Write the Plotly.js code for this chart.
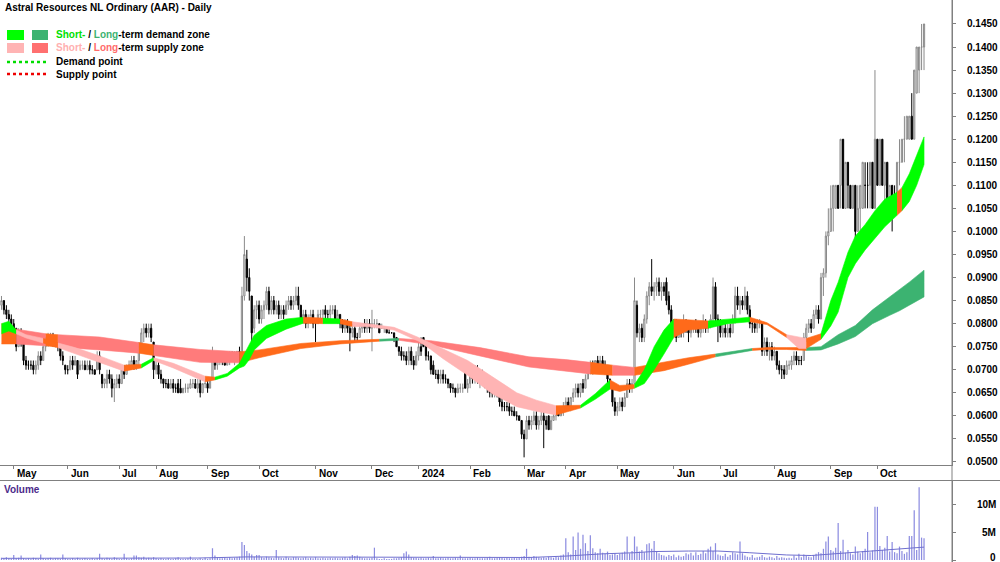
<!DOCTYPE html>
<html><head><meta charset="utf-8">
<script src="https://cdn.plot.ly/plotly-3.0.1.min.js"></script>
<style>html,body{margin:0;padding:0;background:#fff}#chart{width:1000px;height:562px}</style>
</head><body><div id="chart"></div>
<script>
// ---- Daily OHLC (AUD), one entry per trading day ----
const open = [
.084,.085,.083,.082,.081,.080,.079,.075,.078,.076,
.072,.071,.071,.071,.070,.071,.073,.072,.075,.076,
.077,.077,.076,.075,.075,.073,.071,.070,.070,.072,
.071,.072,.070,.071,.071,.070,.071,.070,.070,.070,
.073,.069,.067,.067,.069,.068,.066,.067,.068,.067,
.070,.069,.071,.071,.072,.071,.072,.075,.078,.079,
.078,.079,.076,.070,.071,.069,.068,.067,.067,.066,
.067,.066,.067,.066,.065,.066,.066,.066,.067,.067,
.066,.067,.065,.067,.067,.066,.068,.072,.071,.072,
.073,.072,.071,.072,.073,.072,.073,.074,.072,.086,
.094,.090,.086,.079,.083,.084,.081,.083,.084,.087,
.083,.085,.083,.084,.082,.083,.082,.084,.085,.084,
.085,.086,.084,.081,.082,.080,.081,.082,.080,.080,
.082,.082,.083,.082,.082,.083,.083,.081,.082,.080,
.079,.080,.079,.078,.079,.077,.077,.079,.080,.079,
.080,.079,.080,.080,.080,.079,.079,.079,.078,.078,
.078,.077,.075,.074,.073,.073,.072,.074,.072,.071,
.073,.075,.077,.075,.073,.073,.071,.069,.069,.068,
.069,.068,.068,.067,.066,.066,.065,.066,.066,.070,
.066,.067,.069,.068,.070,.068,.069,.068,.067,.066,
.065,.065,.066,.065,.063,.062,.062,.062,.061,.061,
.060,.060,.059,.056,.055,.059,.058,.059,.060,.058,
.059,.060,.059,.060,.057,.059,.060,.061,.060,.061,
.062,.063,.062,.064,.065,.066,.065,.067,.066,.068,
.070,.071,.070,.072,.071,.072,.071,.070,.068,.066,
.063,.061,.062,.063,.062,.064,.067,.066,.067,.084,
.078,.079,.077,.081,.086,.088,.087,.088,.089,.087,
.088,.089,.086,.083,.079,.080,.077,.079,.078,.080,
.079,.078,.079,.080,.079,.078,.079,.080,.079,.080,
.081,.088,.081,.080,.078,.079,.078,.079,.078,.081,
.086,.084,.085,.084,.086,.083,.080,.080,.079,.080,
.080,.074,.076,.074,.075,.073,.074,.071,.070,.070,
.069,.071,.071,.072,.073,.072,.072,.072,.077,.079,
.080,.079,.082,.083,.081,.090,.091,.099,.100,.105,
.105,.110,.110,.120,.105,.115,.110,.105,.110,.100,
.105,.105,.110,.110,.110,.115,.105,.120,.110,.120,
.110,.115,.105,.110,.105,.105,.115,.115,.120,.120,
.120,.125,.120,.130,.135,.140,.140];
const high = [
.086,.085,.084,.083,.082,.081,.079,.079,.079,.076,
.073,.072,.072,.072,.072,.074,.074,.076,.077,.078,
.078,.078,.077,.076,.075,.074,.071,.071,.073,.073,
.073,.072,.072,.072,.072,.072,.072,.071,.070,.074,
.074,.069,.068,.070,.070,.069,.068,.069,.069,.071,
.071,.071,.072,.073,.073,.072,.076,.079,.080,.080,
.080,.080,.076,.072,.072,.070,.068,.068,.068,.068,
.068,.067,.068,.068,.066,.067,.067,.068,.068,.068,
.068,.068,.067,.068,.068,.068,.075,.074,.073,.074,
.074,.073,.073,.074,.074,.074,.074,.075,.088,.099,
.096,.092,.086,.084,.085,.085,.084,.085,.088,.088,
.086,.086,.085,.085,.084,.084,.085,.086,.086,.086,
.088,.088,.084,.083,.083,.082,.083,.083,.081,.083,
.083,.083,.084,.083,.084,.084,.084,.083,.082,.081,
.081,.081,.080,.080,.080,.078,.080,.080,.081,.081,
.081,.083,.081,.081,.080,.080,.079,.079,.079,.078,
.078,.077,.075,.075,.074,.074,.075,.075,.073,.074,
.076,.077,.077,.076,.074,.073,.072,.070,.070,.070,
.070,.069,.068,.067,.067,.066,.067,.067,.067,.070,
.068,.070,.070,.071,.071,.070,.070,.069,.068,.067,
.066,.067,.067,.065,.064,.063,.063,.063,.062,.062,
.061,.060,.059,.057,.060,.060,.060,.061,.061,.060,
.061,.061,.060,.060,.060,.061,.062,.062,.062,.063,
.064,.064,.064,.066,.067,.067,.067,.068,.069,.071,
.072,.072,.072,.073,.073,.073,.072,.071,.068,.066,
.064,.063,.064,.064,.065,.068,.068,.068,.090,.085,
.080,.080,.082,.087,.089,.094,.089,.090,.090,.089,
.089,.090,.087,.084,.081,.081,.080,.080,.082,.081,
.080,.080,.080,.081,.080,.080,.082,.081,.080,.082,
.090,.089,.082,.081,.080,.080,.080,.080,.082,.088,
.088,.086,.086,.088,.087,.084,.081,.081,.081,.081,
.080,.077,.077,.076,.076,.075,.074,.072,.071,.071,
.072,.072,.073,.074,.074,.073,.073,.078,.080,.081,
.081,.083,.084,.084,.091,.092,.100,.105,.110,.110,
.110,.110,.120,.120,.115,.115,.110,.110,.110,.110,
.110,.115,.115,.115,.115,.115,.135,.120,.120,.120,
.115,.115,.110,.110,.110,.115,.120,.120,.125,.125,
.125,.130,.135,.140,.140,.145,.145];
const low = [
.083,.082,.081,.080,.079,.078,.074,.075,.075,.071,
.070,.070,.070,.069,.069,.070,.071,.072,.074,.075,
.076,.075,.075,.074,.072,.071,.069,.069,.070,.070,
.071,.068,.070,.070,.070,.070,.069,.069,.069,.070,
.069,.066,.066,.066,.067,.064,.063,.066,.066,.067,
.068,.069,.070,.070,.070,.070,.071,.074,.076,.077,
.077,.076,.068,.069,.068,.067,.066,.066,.066,.066,
.065,.065,.065,.065,.065,.065,.065,.066,.066,.066,
.065,.064,.065,.066,.065,.066,.068,.070,.070,.071,
.071,.071,.071,.071,.072,.071,.072,.071,.072,.085,
.087,.085,.076,.078,.081,.080,.080,.081,.083,.082,
.082,.082,.082,.081,.081,.081,.082,.083,.083,.083,
.084,.083,.080,.080,.079,.079,.080,.079,.076,.080,
.081,.081,.081,.081,.081,.082,.081,.080,.079,.078,
.078,.078,.074,.077,.076,.076,.077,.078,.078,.078,
.078,.074,.079,.079,.078,.079,.078,.078,.078,.078,
.076,.075,.073,.072,.072,.071,.071,.071,.070,.071,
.072,.073,.075,.072,.072,.069,.069,.068,.067,.067,
.067,.067,.066,.065,.065,.064,.065,.065,.065,.066,
.065,.066,.067,.067,.067,.066,.067,.066,.065,.064,
.064,.064,.064,.062,.061,.061,.061,.060,.060,.060,
.059,.059,.055,.051,.055,.057,.057,.058,.057,.057,
.058,.053,.057,.057,.057,.059,.059,.060,.060,.060,
.061,.062,.061,.063,.064,.064,.064,.065,.066,.068,
.069,.069,.070,.070,.070,.070,.069,.067,.066,.062,
.060,.060,.061,.061,.062,.064,.065,.065,.067,.077,
.076,.076,.076,.080,.084,.086,.085,.086,.086,.085,
.086,.084,.082,.078,.077,.076,.077,.077,.077,.078,
.076,.077,.078,.078,.077,.077,.078,.078,.078,.079,
.080,.080,.076,.077,.077,.077,.077,.077,.078,.080,
.083,.082,.083,.083,.082,.079,.078,.078,.078,.079,
.073,.073,.073,.072,.072,.072,.070,.069,.068,.068,
.069,.070,.070,.071,.071,.071,.071,.072,.076,.078,
.078,.079,.081,.080,.081,.086,.090,.097,.100,.100,
.105,.105,.105,.105,.105,.105,.105,.105,.095,.100,
.100,.105,.105,.105,.105,.105,.105,.110,.110,.110,
.105,.105,.105,.100,.105,.105,.110,.115,.115,.120,
.120,.120,.120,.130,.130,.135,.135];
const close = [
.085,.083,.082,.081,.080,.079,.075,.078,.076,.072,
.071,.071,.071,.070,.071,.073,.072,.075,.076,.077,
.077,.076,.075,.075,.073,.072,.070,.070,.072,.071,
.072,.069,.071,.071,.070,.071,.070,.070,.069,.073,
.070,.067,.068,.069,.068,.066,.067,.068,.067,.070,
.069,.071,.071,.072,.071,.072,.075,.078,.079,.078,
.079,.077,.070,.071,.069,.068,.067,.067,.066,.067,
.066,.066,.065,.065,.066,.066,.066,.067,.067,.066,
.067,.065,.067,.067,.066,.068,.072,.071,.072,.073,
.072,.071,.072,.073,.072,.073,.074,.072,.086,.095,
.090,.087,.078,.083,.084,.081,.083,.084,.087,.083,
.085,.083,.084,.082,.083,.082,.084,.085,.084,.085,
.086,.084,.081,.082,.080,.081,.082,.080,.080,.082,
.082,.083,.082,.082,.083,.083,.081,.082,.080,.079,
.080,.079,.078,.079,.077,.077,.079,.080,.079,.080,
.079,.080,.080,.080,.078,.079,.079,.078,.078,.078,
.077,.075,.074,.073,.073,.072,.074,.072,.071,.073,
.075,.074,.075,.073,.073,.070,.069,.069,.068,.069,
.068,.068,.067,.066,.066,.065,.066,.066,.066,.066,
.067,.069,.068,.070,.068,.069,.068,.067,.066,.065,
.065,.066,.065,.063,.062,.062,.062,.061,.061,.060,
.060,.059,.056,.055,.059,.058,.059,.060,.058,.059,
.060,.059,.058,.057,.059,.060,.061,.060,.061,.062,
.063,.062,.064,.065,.066,.065,.067,.066,.068,.070,
.071,.070,.072,.071,.072,.071,.070,.068,.067,.063,
.061,.062,.063,.062,.064,.067,.066,.067,.085,.078,
.079,.077,.081,.086,.088,.087,.088,.089,.087,.088,
.087,.085,.083,.079,.080,.077,.079,.078,.080,.079,
.078,.079,.080,.079,.078,.079,.080,.079,.080,.081,
.088,.081,.080,.078,.079,.078,.079,.078,.081,.086,
.084,.085,.084,.086,.083,.080,.080,.079,.080,.080,
.074,.076,.074,.075,.073,.074,.071,.070,.070,.069,
.071,.071,.072,.073,.072,.072,.072,.077,.079,.080,
.079,.082,.083,.081,.090,.091,.099,.100,.105,.110,
.110,.105,.120,.105,.115,.110,.105,.110,.100,.105,
.110,.115,.110,.110,.115,.105,.120,.110,.120,.110,
.115,.105,.110,.105,.105,.115,.115,.120,.120,.125,
.125,.120,.135,.140,.140,.140,.145];

// ---- Daily volume, millions of shares ----
const volumeM = [
0.4,0.3,0.5,0.3,0.2,0.9,0.3,0.4,0.8,0.3,
0.2,0.3,0.2,0.4,0.3,0.2,1.0,0.3,0.2,0.3,
0.4,0.2,0.3,0.3,0.2,1.0,0.3,0.2,0.2,0.3,
0.2,0.4,0.2,0.2,0.3,0.2,0.2,0.3,0.2,0.3,
1.1,0.3,0.2,0.4,0.3,0.2,0.5,0.3,0.2,0.2,
1.1,0.3,0.2,0.3,0.8,0.8,0.5,0.4,0.6,0.3,
0.4,0.3,0.5,0.3,0.2,0.3,0.2,0.2,0.3,0.2,
0.2,0.3,0.5,0.2,0.2,0.2,0.3,0.6,0.2,0.2,
0.2,0.3,0.2,0.4,0.2,0.3,2.1,0.8,0.4,0.3,
0.3,0.4,0.3,0.5,0.3,0.4,0.5,0.6,3.2,2.7,
1.6,1.2,1.0,0.6,0.9,0.9,0.5,0.4,0.6,0.5,
0.4,0.3,1.8,0.5,0.4,0.3,0.6,0.4,0.3,0.5,
0.5,0.4,0.3,0.4,0.5,0.3,0.4,0.3,0.5,0.3,
0.3,0.4,0.3,0.3,0.4,0.3,0.4,0.3,0.3,0.4,
0.5,0.3,0.6,0.9,0.7,0.8,0.6,0.4,0.3,0.3,
0.3,0.4,2.2,0.3,0.2,0.2,0.3,0.2,0.2,0.2,
0.3,0.3,0.4,0.5,1.2,1.5,1.0,0.5,0.4,0.4,
0.3,0.4,0.3,0.3,0.4,0.3,0.7,0.3,0.3,0.4,
0.3,0.3,0.4,0.3,0.3,0.4,0.3,0.8,0.3,0.3,
0.3,0.4,0.3,0.3,0.4,0.3,0.3,0.3,0.4,0.6,
0.3,0.3,0.4,0.5,0.4,0.3,0.4,0.3,0.3,0.4,
0.3,0.4,0.6,0.7,2.0,0.6,0.5,0.7,0.6,0.5,
0.4,0.5,0.4,0.6,0.5,0.4,0.6,0.5,0.8,1.0,
3.9,1.4,1.0,4.2,1.8,4.9,2.0,4.5,3.0,1.6,
4.4,2.1,1.4,1.2,2.0,1.3,1.1,1.5,0.9,1.0,
1.2,0.9,1.1,1.3,1.5,4.2,1.2,1.6,4.2,2.4,
1.5,1.8,1.4,2.8,3.0,2.0,3.4,1.6,1.2,0.9,
0.8,0.6,0.9,0.7,1.0,0.5,0.8,0.6,0.7,1.2,
1.0,1.3,0.8,1.4,0.9,1.1,1.6,1.2,2.0,2.4,
1.6,3.0,1.0,0.8,0.7,1.1,0.6,0.9,1.4,1.2,
1.0,3.3,1.2,0.8,0.6,0.5,0.9,0.4,0.5,0.6,
0.9,0.5,0.4,0.6,0.5,0.3,0.7,0.4,0.5,0.4,
0.3,0.4,0.3,0.8,0.4,1.1,0.5,1.0,0.7,0.6,
0.5,0.9,1.1,1.4,1.2,2.0,3.3,4.2,1.8,1.5,
2.2,6.6,1.6,3.6,1.3,1.8,1.2,1.0,2.4,1.5,
1.2,1.6,2.0,5.0,1.4,1.7,9.5,9.5,2.5,1.8,
2.2,4.3,1.5,3.2,1.4,1.2,2.4,1.6,1.1,1.4,
4.3,4.3,8.9,1.8,13.0,4.0,3.9];

// ---- Volume moving average (read at sample days) ----
const volMaIdx = [0,40,80,100,130,160,200,215,230,245,258,265,280,292,305,320,330,340,350,360,370,376];
const volMaM   = [0.30,0.32,0.35,0.55,0.50,0.45,0.40,0.45,0.70,1.10,1.30,1.50,1.60,1.60,1.30,0.90,0.80,1.10,1.40,1.70,2.00,2.30];

// ---- Month ticks (trading-day index of first day of month) ----
const monthTickIndex = [5,27,48,63,84,105,128,151,170,191,213,230,251,274,293,315,338,357];
const monthTickLabel = ['May','Jun','Jul','Aug','Sep','Oct','Nov','Dec','2024','Feb','Mar','Apr','May','Jun','Jul','Aug','Sep','Oct'];

// ---- Price axis ticks ----
const priceTicks = [0.050,0.055,0.060,0.065,0.070,0.075,0.080,0.085,0.090,0.095,0.100,0.105,0.110,0.115,0.120,0.125,0.130,0.135,0.140,0.145];
const volTicks = [0,5,10];
const volTickLabel = ['0','5M','10M'];

// ---- Short-term zone (read at sample days) ----
const stIdx   = [0,3,6,10,17,23,30,40,50,57,62,70,83,87,92,97,99,101,103,108,116,123,131,138,143,150,160,170,175,180,190,200,210,218,226,236,242,248,252,258,262,266,270,274,280,288,296,305,312,320,325,328,334,338,341,345,348,352,356,360,365,367,370,373,376];
const stUpper = [.0800,.0805,.0786,.0776,.0768,.0758,.0748,.0730,.0710,.0712,.0726,.0714,.0686,.0684,.0692,.0714,.0735,.0756,.0775,.0796,.0810,.0814,.0812,.0810,.0804,.0799,.0792,.0770,.0758,.0745,.0720,.0685,.0650,.0634,.0622,.0623,.0648,.0678,.0666,.0668,.0700,.0750,.0786,.0810,.0808,.0806,.0810,.0814,.0802,.0776,.0770,.0768,.0778,.0850,.0890,.0955,.0990,.1015,.1045,.1070,.1085,.1095,.1125,.1165,.1205];
const stLower = [.0778,.0784,.0778,.0769,.0758,.0748,.0736,.0716,.0697,.0704,.0720,.0704,.0674,.0678,.0686,.0704,.0708,.0722,.0743,.0768,.0788,.0801,.0800,.0800,.0794,.0793,.0786,.0762,.0744,.0724,.0688,.0648,.0620,.0610,.0602,.0617,.0636,.0658,.0653,.0660,.0670,.0700,.0734,.0770,.0786,.0790,.0800,.0804,.0798,.0770,.0746,.0746,.0766,.0795,.0825,.0900,.0930,.0960,.0985,.1010,.1035,.1045,.1065,.1100,.1145];
const stSegStart = [0,6,17,23,50,57,62,83,87,123,131,138,143,226,236,248,258,274,288,305,320,328,334,365,367];
const stSegEnd   = [6,17,23,50,57,62,83,87,123,131,138,143,226,236,248,258,274,288,305,320,328,334,365,367,376];
const stSegZone  = ['stDemand','stSupply','neutral','stSupply','neutral','stDemand','stSupply','neutral','stDemand','neutral','stDemand','neutral','stSupply','neutral','stDemand','neutral','stDemand','neutral','stDemand','neutral','stSupply','neutral','stDemand','neutral','stDemand'];

// ---- Long-term zone (read at sample days) ----
const ltIdx   = [0,6,18,23,40,56,62,81,97,105,122,138,154,162,175,195,215,230,240,249,258,270,280,291,306,312,320,328,334,341,348,355,362,366,370,376];
const ltUpper = [.0800,.0788,.0778,.0776,.0771,.0759,.0754,.0744,.0739,.0743,.0757,.0763,.0766,.0768,.0763,.0748,.0728,.0722,.0716,.0710,.0705,.0716,.0726,.0734,.0746,.0748,.0748,.0748,.0750,.0776,.0796,.0830,.0858,.0873,.0890,.0916];
const ltLower = [.0756,.0756,.0752,.0749,.0743,.0736,.0731,.0716,.0715,.0726,.0746,.0756,.0762,.0764,.0754,.0730,.0706,.0697,.0691,.0688,.0688,.0698,.0712,.0728,.0742,.0744,.0744,.0742,.0743,.0756,.0772,.0800,.0818,.0828,.0840,.0858];
const ltSegStart = [0,6,18,23,56,62,97,154,162,240,249,258,291,306,328];
const ltSegEnd   = [6,18,23,56,62,97,154,162,240,249,258,291,306,328,376];
const ltSegZone  = ['neutral','ltSupply','neutral','ltSupply','neutral','ltSupply','neutral','ltDemand','ltSupply','neutral','ltSupply','neutral','ltDemand','neutral','ltDemand'];

const zoneColor = {stDemand:'#00ff00', ltDemand:'#3cb371', stSupply:'#ffb4b4', ltSupply:'#ff7b7b', neutral:'#ff6a1a'};

// ---------- build ----------
const FONT = 'Liberation Sans, Arial, sans-serif';
const dayIdx = close.map((_, i) => i);

function bandTraces(idx, up, lo, s0, s1, zone) {
  return s0.map((s, k) => {
    const e = s1[k], xs = [], yu = [], yl = [];
    idx.forEach((x, j) => { if (x >= s && x <= e) { xs.push(x); yu.push(up[j]); yl.push(lo[j]); } });
    const c = zoneColor[zone[k]];
    return {type:'scatter', mode:'lines', x: xs.concat(xs.slice().reverse()), y: yu.concat(yl.slice().reverse()),
      fill:'toself', fillcolor:c, line:{width:0.6, color:c}, hoverinfo:'skip', showlegend:false, xaxis:'x', yaxis:'y'};
  });
}

const traces = [].concat(
  bandTraces(ltIdx, ltUpper, ltLower, ltSegStart, ltSegEnd, ltSegZone),
  bandTraces(stIdx, stUpper, stLower, stSegStart, stSegEnd, stSegZone),
  [{type:'candlestick', x: dayIdx, open, high, low, close, xaxis:'x', yaxis:'y',
    increasing:{line:{color:'#8a8a8a', width:1}, fillcolor:'#ffffff'},
    decreasing:{line:{color:'#000000', width:1}, fillcolor:'#000000'},
    whiskerwidth:0, hoverinfo:'skip', showlegend:false},
   {type:'bar', x: dayIdx, y: volumeM, xaxis:'x2', yaxis:'y2', width:0.5,
    marker:{color:'#8c8ce0', line:{width:0}}, hoverinfo:'skip', showlegend:false},
   {type:'scatter', mode:'lines', x: volMaIdx, y: volMaM, xaxis:'x2', yaxis:'y2',
    line:{color:'#6f6fcf', width:1}, hoverinfo:'skip', showlegend:false}]
);

const W = 952, H = 562;
const px = v => v / W, py = v => 1 - v / H;
const boldFont = (c, s) => ({family: FONT, size: s || 10, color: c || '#000', weight: 'bold'});

const annotations = [
  {xref:'paper', yref:'paper', x:px(3), y:py(7), xanchor:'left', yanchor:'middle', showarrow:false,
   text:'Astral Resources NL Ordinary (AAR) - Daily', font: boldFont('#000')},
  {xref:'paper', yref:'paper', x:px(54), y:py(35), xanchor:'left', yanchor:'middle', showarrow:false,
   text:'<span style="color:#00e000">Short-</span> / <span style="color:#3cb371">Long</span>-term demand zone', font: boldFont('#000')},
  {xref:'paper', yref:'paper', x:px(54), y:py(48), xanchor:'left', yanchor:'middle', showarrow:false,
   text:'<span style="color:#ffb0b0">Short-</span> / <span style="color:#ff6b6b">Long</span>-term supply zone', font: boldFont('#000')},
  {xref:'paper', yref:'paper', x:px(54), y:py(62), xanchor:'left', yanchor:'middle', showarrow:false,
   text:'Demand point', font: boldFont('#000')},
  {xref:'paper', yref:'paper', x:px(54), y:py(74), xanchor:'left', yanchor:'middle', showarrow:false,
   text:'Supply point', font: boldFont('#000')},
  {xref:'paper', yref:'paper', x:px(2), y:py(489), xanchor:'left', yanchor:'middle', showarrow:false,
   text:'Volume', font: boldFont('#4b2a8a')}
];
monthTickIndex.forEach((t, k) => annotations.push({
  xref:'x', yref:'paper', x:t, y:py(473), xanchor:'left', yanchor:'middle', xshift:1, showarrow:false,
  text: monthTickLabel[k], font: boldFont('#000')}));
volTicks.forEach((t, k) => annotations.push({
  xref:'paper', yref:'y2', x:px(998), y:t, xanchor:'right', yanchor:'middle', yshift: (t === 0 ? 3 : 0), showarrow:false,
  text: volTickLabel[k], font: boldFont('#000')}));

const shapes = [
  {type:'rect', xref:'paper', yref:'paper', x0:px(7), x1:px(24), y0:py(30), y1:py(40), fillcolor:'#00ff00', line:{width:0}},
  {type:'rect', xref:'paper', yref:'paper', x0:px(32), x1:px(48), y0:py(30), y1:py(40), fillcolor:'#3cb371', line:{width:0}},
  {type:'rect', xref:'paper', yref:'paper', x0:px(7), x1:px(24), y0:py(43), y1:py(53), fillcolor:'#ffb4b4', line:{width:0}},
  {type:'rect', xref:'paper', yref:'paper', x0:px(32), x1:px(48), y0:py(43), y1:py(53), fillcolor:'#ff7070', line:{width:0}},
  {type:'line', xref:'paper', yref:'paper', x0:px(7), x1:px(46), y0:py(62), y1:py(62), line:{color:'#00dd00', width:2.5, dash:'dot'}},
  {type:'line', xref:'paper', yref:'paper', x0:px(7), x1:px(46), y0:py(74), y1:py(74), line:{color:'#ee0000', width:2.5, dash:'dot'}},
  {type:'line', xref:'paper', yref:'paper', x0:0, x1:px(1000), y0:py(480.5), y1:py(480.5), line:{color:'#808080', width:1}},
  {type:'line', xref:'paper', yref:'paper', x0:1, x1:1, y0:0, y1:1, line:{color:'#808080', width:1}}
];

const axisFont = boldFont('#000');
const layout = {
  width:1000, height:562, margin:{l:0, r:48, t:0, b:0},
  paper_bgcolor:'#ffffff', plot_bgcolor:'#ffffff', showlegend:false, hovermode:false,
  xaxis:{domain:[0,1], anchor:'y', range:[-0.6, 387.4], rangeslider:{visible:false},
    tickmode:'array', tickvals: monthTickIndex, showticklabels:false, ticks:'outside', ticklen:3, tickcolor:'#808080',
    showline:true, linecolor:'#808080', linewidth:1, showgrid:false, zeroline:false, fixedrange:true},
  yaxis:{domain:[1-465/H, 1], anchor:'x', side:'right', range:[0.04934, 0.1502],
    tickmode:'array', tickvals: priceTicks, tickformat:'.4f', ticks:'outside', ticklen:3, tickcolor:'#808080',
    tickfont: axisFont, ticklabelstandoff: 9, showline:true, linecolor:'#808080', showgrid:false, zeroline:false},
  xaxis2:{domain:[0,1], anchor:'y2', range:[-0.6, 387.4], showticklabels:false, ticks:'', showgrid:false,
    zeroline:false, showline:false},
  yaxis2:{domain:[0, 1-481/H], anchor:'x2', side:'right', range:[-0.357, 14.107],
    tickmode:'array', tickvals: volTicks, showticklabels:false, ticks:'outside', ticklen:3, tickcolor:'#808080',
    showline:true, linecolor:'#808080', showgrid:false, zeroline:false},
  annotations, shapes
};

Plotly.newPlot('chart', traces, layout, {staticPlot:true, displayModeBar:false});
</script>
</body></html>
